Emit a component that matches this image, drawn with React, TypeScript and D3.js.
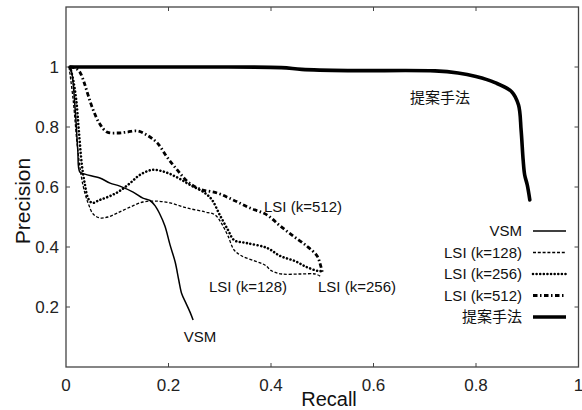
import React from "react";
import * as d3 from "d3";

type P = [number, number];

const proposed: P[] = [
  [0.008, 1.0], [0.1, 1.0], [0.26, 1.0], [0.42, 0.998], [0.46, 0.992], [0.55, 0.988],
  [0.72, 0.987], [0.765, 0.98], [0.8, 0.968], [0.837, 0.948], [0.87, 0.917],
  [0.883, 0.873], [0.888, 0.79], [0.892, 0.69], [0.895, 0.64], [0.9, 0.607], [0.905, 0.557],
];

const vsm: P[] = [
  [0.006, 1.0], [0.01, 0.99], [0.018, 0.857], [0.023, 0.723], [0.027, 0.65],
  [0.037, 0.643], [0.066, 0.63], [0.086, 0.613], [0.105, 0.603], [0.131, 0.583],
  [0.15, 0.563], [0.164, 0.555], [0.174, 0.537], [0.183, 0.51], [0.193, 0.47],
  [0.203, 0.407], [0.213, 0.35], [0.22, 0.29], [0.226, 0.243], [0.234, 0.213],
  [0.242, 0.183], [0.248, 0.157],
];

const lsi128: P[] = [
  [0.006, 1.0], [0.014, 0.89], [0.023, 0.723], [0.033, 0.607], [0.043, 0.547],
  [0.053, 0.51], [0.066, 0.497], [0.082, 0.5], [0.1, 0.513], [0.125, 0.533],
  [0.15, 0.55], [0.174, 0.553], [0.203, 0.547], [0.236, 0.53], [0.271, 0.517],
  [0.291, 0.507], [0.304, 0.477], [0.316, 0.437], [0.328, 0.39], [0.343, 0.37],
  [0.369, 0.353], [0.388, 0.34], [0.402, 0.32], [0.421, 0.31], [0.457, 0.31],
  [0.486, 0.31], [0.496, 0.303],
];

const lsi256: P[] = [
  [0.008, 1.0], [0.014, 0.957], [0.02, 0.89], [0.025, 0.79], [0.031, 0.673],
  [0.037, 0.607], [0.043, 0.563], [0.051, 0.547], [0.066, 0.557], [0.086, 0.57],
  [0.105, 0.587], [0.125, 0.613], [0.144, 0.64], [0.168, 0.657], [0.193, 0.65],
  [0.219, 0.63], [0.242, 0.607], [0.271, 0.58], [0.285, 0.557], [0.3, 0.507],
  [0.316, 0.457], [0.328, 0.423], [0.353, 0.413], [0.392, 0.397], [0.418, 0.37],
  [0.447, 0.353], [0.47, 0.333], [0.492, 0.32], [0.501, 0.32],
];

const lsi512: P[] = [
  [0.008, 1.0], [0.018, 0.997], [0.027, 0.983], [0.035, 0.95], [0.043, 0.907],
  [0.053, 0.857], [0.066, 0.81], [0.08, 0.783], [0.1, 0.78], [0.119, 0.783],
  [0.139, 0.787], [0.158, 0.773], [0.178, 0.747], [0.197, 0.7], [0.217, 0.657],
  [0.236, 0.62], [0.261, 0.593], [0.295, 0.58], [0.326, 0.557], [0.359, 0.53],
  [0.392, 0.507], [0.418, 0.47], [0.443, 0.437], [0.47, 0.403], [0.49, 0.37],
  [0.496, 0.343], [0.5, 0.317],
];

const xTicks = [0, 0.2, 0.4, 0.6, 0.8, 1];
const yTicks = [0.2, 0.4, 0.6, 0.8, 1];

const seriesNames = ["VSM", "LSI (k=128)", "LSI (k=256)", "LSI (k=512)", "提案手法"];

const W = 582, H = 410;
const FONT = "'Liberation Sans', Arial, Helvetica, sans-serif";
const CJK = "'Noto Sans CJK JP', 'Noto Sans CJK SC', sans-serif";

const styles: { width: number; dash?: string; cap: "butt" | "round" }[] = [
  { width: 1.5, cap: "butt" },
  { width: 1.3, dash: "3 1.8", cap: "butt" },
  { width: 2.6, dash: "0.01 3.6", cap: "round" },
  { width: 2.8, dash: "4.5 2.5 1.5 2.5", cap: "butt" },
  { width: 3.6, cap: "round" },
];

export default function App() {
  const x = d3.scaleLinear().domain([0, 1]).range([66, 578.5]);
  const y = d3.scaleLinear().domain([0, 1.2]).range([367, 7]);
  const line = d3
    .line<P>()
    .x((d) => x(d[0]))
    .y((d) => y(d[1]))
    .curve(d3.curveCatmullRom.alpha(0.5));

  const data = [vsm, lsi128, lsi256, lsi512, proposed];
  const axisColor = "#444";
  const legendY = [231, 252.5, 274, 295.5, 317];

  return (
    <svg
      width={W}
      height={H}
      style={{ position: "absolute", left: 0, top: 0, background: "#fff" }}
    >
      <rect x={0} y={0} width={W} height={H} fill="#fff" />
      {/* frame */}
      <rect
        x={x(0)}
        y={y(1.2)}
        width={x(1) - x(0)}
        height={y(0) - y(1.2)}
        fill="none"
        stroke={axisColor}
        strokeWidth={1.3}
      />
      {/* ticks */}
      {xTicks.slice(1, -1).map((t) => (
        <g key={"xt" + t}>
          <line x1={x(t)} x2={x(t)} y1={y(0)} y2={y(0) - 4} stroke={axisColor} strokeWidth={1} />
          <line x1={x(t)} x2={x(t)} y1={y(1.2)} y2={y(1.2) + 4} stroke={axisColor} strokeWidth={1} />
        </g>
      ))}
      {yTicks.map((t) => (
        <g key={"yt" + t}>
          <line x1={x(0)} x2={x(0) + 4} y1={y(t)} y2={y(t)} stroke={axisColor} strokeWidth={1} />
          <line x1={x(1)} x2={x(1) - 4} y1={y(t)} y2={y(t)} stroke={axisColor} strokeWidth={1} />
        </g>
      ))}
      {/* tick labels */}
      {xTicks.map((t) => (
        <text
          key={"xl" + t}
          x={x(t)}
          y={391}
          textAnchor="middle"
          fontFamily={FONT}
          fontSize={17}
          fill="#222"
        >
          {d3.format("~g")(t)}
        </text>
      ))}
      {yTicks.map((t) => (
        <text
          key={"yl" + t}
          x={59}
          y={y(t) + 6}
          textAnchor="end"
          fontFamily={FONT}
          fontSize={17}
          fill="#222"
        >
          {d3.format("~g")(t)}
        </text>
      ))}
      {/* axis titles */}
      <text x={329} y={406} textAnchor="middle" fontFamily={FONT} fontSize={20} fill="#111">
        Recall
      </text>
      <text
        transform={`translate(30,201) rotate(-90)`}
        textAnchor="middle"
        fontFamily={FONT}
        fontSize={21}
        fill="#111"
      >
        Precision
      </text>
      {/* curves */}
      {data.map((d, i) => (
        <path
          key={"s" + i}
          d={line(d) || ""}
          fill="none"
          stroke="#000"
          strokeWidth={styles[i].width}
          strokeDasharray={styles[i].dash}
          strokeLinecap={styles[i].cap}
          strokeLinejoin="round"
        />
      ))}
      {/* curve labels */}
      <text x={440} y={103} textAnchor="middle" fontFamily={CJK} fontSize={15} fill="#111">
        提案手法
      </text>
      <text x={303} y={212} textAnchor="middle" fontFamily={FONT} fontSize={15} fill="#111">
        LSI (k=512)
      </text>
      <text x={248} y={292} textAnchor="middle" fontFamily={FONT} fontSize={15} fill="#111">
        LSI (k=128)
      </text>
      <text x={357} y={292} textAnchor="middle" fontFamily={FONT} fontSize={15} fill="#111">
        LSI (k=256)
      </text>
      <text x={200} y={342} textAnchor="middle" fontFamily={FONT} fontSize={15} fill="#111">
        VSM
      </text>
      {/* legend */}
      {seriesNames.map((n, i) => (
        <g key={"lg" + i}>
          <text
            x={522}
            y={legendY[i] + 5}
            textAnchor="end"
            fontFamily={i === 4 ? CJK : FONT}
            fontSize={15}
            fill="#111"
          >
            {n}
          </text>
          <line
            x1={533}
            x2={566}
            y1={legendY[i]}
            y2={legendY[i]}
            stroke="#000"
            strokeWidth={styles[i].width}
            strokeDasharray={styles[i].dash}
            strokeLinecap={styles[i].cap === "round" && i === 2 ? "round" : "butt"}
          />
        </g>
      ))}
    </svg>
  );
}
